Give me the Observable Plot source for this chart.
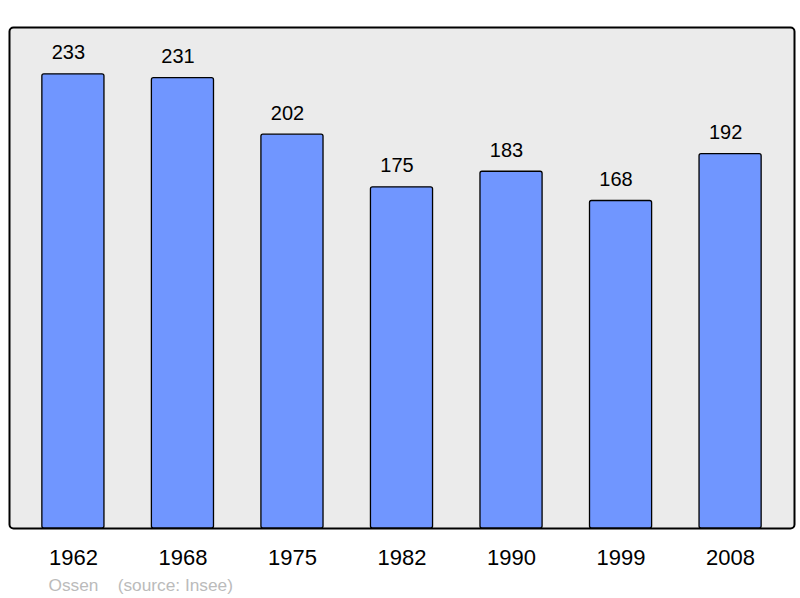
<!DOCTYPE html>
<html>
<head>
<meta charset="utf-8">
<script src="https://cdn.jsdelivr.net/npm/d3@7"></script>
<script src="https://cdn.jsdelivr.net/npm/@observablehq/plot@0.6"></script>
<style>
  html, body { margin: 0; padding: 0; background: #fff; }
  svg { display: block; font-family: "Liberation Sans", Arial, sans-serif; }
</style>
</head>
<body>
<div id="chart"></div>
<script>
const years = ["1962", "1968", "1975", "1982", "1990", "1999", "2008"];
const population = [233, 231, 202, 175, 183, 168, 192];
const captionText = "Ossen\u00a0\u00a0\u00a0\u00a0(source: Insee)";

const data = years.map((year, i) => ({year, value: population[i]}));

const chart = Plot.plot({
  width: 800,
  height: 598,
  marginTop: 27,
  marginBottom: 70,
  marginLeft: 9,
  marginRight: 6,
  style: {background: "#fff", fontFamily: "Liberation Sans, Arial, sans-serif"},
  x: {domain: years, paddingInner: 0.433, paddingOuter: 0.3, round: false, label: null},
  y: {domain: [0, 257], axis: null},
  marks: [
    Plot.frame({fill: "#ebebeb", stroke: "#000", strokeWidth: 2, rx: 4}),
    Plot.barY(data, {x: "year", y: "value", fill: "#7096ff", stroke: "#000", strokeWidth: 1.3, rx: 2}),
    Plot.text(data, {x: "year", y: "value", text: d => String(d.value), dx: -5, dy: -15, lineAnchor: "bottom", fontSize: 20, fill: "#000"}),
    Plot.axisX({tickSize: 0, tickPadding: 21, fontSize: 22, label: null, color: "#000"}),
    Plot.text([captionText], {frameAnchor: "bottom-left", dx: 39, dy: 62, textAnchor: "start", lineAnchor: "bottom", fontSize: 17.3, fill: "#bbbbbb"})
  ]
});
document.getElementById("chart").appendChild(chart);
</script>
</body>
</html>
